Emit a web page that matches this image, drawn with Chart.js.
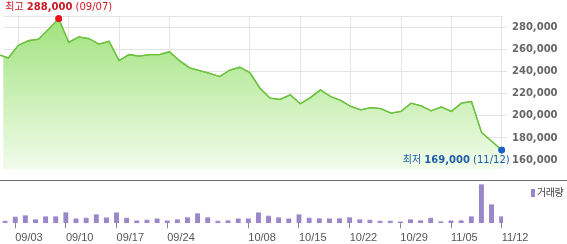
<!DOCTYPE html>
<html><head><meta charset="utf-8">
<script src="https://cdn.jsdelivr.net/npm/chart.js@4/dist/chart.umd.min.js"></script>
<style>
html,body{margin:0;padding:0;background:#fff;}
#wrap{position:relative;width:567px;height:244px;overflow:hidden;background:#fff;}
#top{position:absolute;left:0;top:0;width:567px;height:180px;}
#bot{position:absolute;left:0;top:181px;width:567px;height:63px;}
#sep{position:absolute;left:0;top:180px;width:567px;height:1px;background:#707070;}
#legend{position:absolute;left:531px;top:185px;font-family:'Noto Sans CJK KR';font-size:10px;color:#444;line-height:14px;white-space:nowrap;letter-spacing:-0.5px;}
#legend i{display:inline-block;width:4px;height:8px;background:#9a86c8;margin-right:2px;vertical-align:-1px;}
</style></head>
<body><div id="wrap">
<canvas id="top" width="567" height="180"></canvas>
<div id="sep"></div>
<canvas id="bot" width="567" height="63"></canvas>
<div id="legend"><i></i>거래량</div>
</div>
<script>
const dates = ['08/30','08/31','09/03','09/04','09/05','09/06','09/07','09/10','09/11','09/12','09/13','09/14',
  '09/17','09/18','09/19','09/20','09/21','09/24','09/25','09/26','09/27','09/28','10/02','10/04','10/05',
  '10/08','10/09','10/10','10/11','10/12','10/15','10/16','10/17','10/18','10/19','10/22','10/23','10/24',
  '10/25','10/26','10/29','10/30','10/31','11/01','11/02','11/05','11/06','11/07','11/08','11/09','11/12'];
const prices = [255500,252500,264000,268000,269500,278500,288000,266500,271500,270000,265000,267500,
  250000,255500,254000,255500,255500,258000,250000,243500,241000,238500,235500,241500,244000,
  239000,225000,216000,215000,219000,211000,216500,223500,217500,214000,208500,205500,207500,
  206500,202500,204000,211500,209000,204500,208000,204000,211500,213000,185000,177000,169000];
const volumes = [40,27,67,83,43,73,73,113,50,57,93,60,
  110,57,30,37,50,30,43,63,103,63,27,33,50,
  50,110,77,63,50,93,57,53,50,53,63,43,37,
  27,27,20,43,33,57,23,30,33,73,393,193,73];
const tickLabels = ['09/03','09/10','09/17','09/24','10/08','10/15','10/22','10/29','11/05','11/12'];
const priceTicks = [160000,180000,200000,220000,240000,260000,280000];

const X_MIN = 0.5, X_MAX = 50.13;
const Y_MIN = 151900, Y_MAX = 290400;
const V_MAX = 423;

const tickIdx = tickLabels.map(l => dates.indexOf(l));
const maxI = prices.indexOf(Math.max(...prices));
const minI = prices.lastIndexOf(Math.min(...prices));
const fmt = v => v.toLocaleString('en-US');
const setXTicks = s => { s.ticks = tickIdx.map(v => ({value: v})); };

function drawRich(ctx, parts, x, y, align, clampMin, clampMax, color) {
  const reg = '10px "DejaVu Sans", "Noto Sans CJK KR"';
  const bold = 'bold 10px "DejaVu Sans", "Noto Sans CJK KR"';
  let total = 0;
  const widths = parts.map(p => { ctx.font = p.b ? bold : reg; const w = ctx.measureText(p.t).width; total += w; return w; });
  let left = align === 'center' ? x - total / 2 : x - total;
  if (clampMin !== null && left < clampMin) left = clampMin;
  if (clampMax !== null && left + total > clampMax) left = clampMax - total;
  ctx.save();
  ctx.fillStyle = color;
  ctx.textBaseline = 'middle';
  ctx.textAlign = 'left';
  parts.forEach((p, i) => { ctx.font = p.b ? bold : reg; ctx.fillText(p.t, left, y); left += widths[i]; });
  ctx.restore();
}

const overlay = {
  id: 'overlay',
  afterDraw(chart) {
    const meta = chart.getDatasetMeta(0);
    meta.controller.draw();
    const ctx = chart.ctx;
    const pMax = meta.data[maxI], pMin = meta.data[minI];
    drawRich(ctx, [{t: '최고 '}, {t: fmt(prices[maxI]), b: true}, {t: ' (' + dates[maxI] + ')'}],
      pMax.x, pMax.y - 11.5, 'center', 3, null, '#cc1a22');
    drawRich(ctx, [{t: '최저 '}, {t: fmt(prices[minI]), b: true}, {t: ' (' + dates[minI] + ')'}],
      pMin.x + 8, pMin.y + 10, 'right', null, 510, '#1f5ea8');
  }
};

new Chart(document.getElementById('top'), {
  type: 'line',
  data: {datasets: [{
    data: prices.map((v, i) => ({x: i, y: v})),
    borderColor: '#6cc23f', borderWidth: 1.3, tension: 0,
    fill: 'start',
    backgroundColor: c => {
      const ca = c.chart.chartArea;
      if (!ca) return '#c8f0b0';
      const g = c.chart.ctx.createLinearGradient(0, ca.top, 0, ca.bottom);
      g.addColorStop(0, '#9fe27b');
      g.addColorStop(1, '#f1fcea');
      return g;
    },
    pointRadius: prices.map((v, i) => (i === maxI || i === minI) ? 3.3 : 0),
    pointBackgroundColor: prices.map((v, i) => i === maxI ? '#e8141c' : '#1c62c6'),
    pointBorderWidth: 0, pointHoverRadius: 0,
    clip: false
  }]},
  options: {
    responsive: false, animation: false, events: [],
    layout: {padding: {top: 16, left: 0, right: 0, bottom: 0}},
    plugins: {legend: {display: false}, tooltip: {enabled: false}},
    scales: {
      x: {type: 'linear', min: X_MIN, max: X_MAX, z: 1, afterBuildTicks: setXTicks,
        grid: {color: '#e4e4e4', drawTicks: false}, border: {display: false},
        ticks: {display: false}, afterFit: s => { s.height = 0; }},
      y: {position: 'right', min: Y_MIN, max: Y_MAX, z: 1,
        afterBuildTicks: s => { s.ticks = priceTicks.map(v => ({value: v})).concat([{value: Y_MAX}]); },
        grid: {color: '#e4e4e4', tickLength: 4,
          tickColor: c => (c.tick && c.tick.value === Y_MAX) ? 'rgba(0,0,0,0)' : '#e4e4e4'},
        border: {display: false},
        ticks: {padding: 5, color: '#666', font: {family: 'DejaVu Sans', size: 10, weight: 'bold'},
          callback: v => priceTicks.includes(v) ? fmt(v) : ''},
        afterFit: s => { s.width = 64; }}
    }
  },
  plugins: [overlay]
});

new Chart(document.getElementById('bot'), {
  type: 'bar',
  data: {datasets: [{
    data: volumes.map((v, i) => ({x: i, y: v})),
    backgroundColor: '#9a86c8', borderColor: '#cdc2e8',
    borderWidth: {top: 1, left: 0, right: 0, bottom: 0}, borderSkipped: 'start',
    barThickness: 5
  }]},
  options: {
    responsive: false, animation: false, events: [],
    layout: {padding: {top: 0, left: 0, right: 64, bottom: 0}},
    plugins: {legend: {display: false}, tooltip: {enabled: false}},
    scales: {
      x: {type: 'linear', min: X_MIN, max: X_MAX, offset: false, afterBuildTicks: setXTicks,
        grid: {offset: false, drawOnChartArea: false, drawTicks: true, tickLength: 5, color: '#8a8a8a'},
        border: {display: false},
        ticks: {autoSkip: false, maxRotation: 0, align: 'start', padding: 3, color: '#555',
          font: {family: 'Liberation Sans', size: 11}, callback: v => dates[v] || ''},
        afterFit: s => { s.height = 20.7; }},
      y: {display: false, min: 0, max: V_MAX}
    }
  }
});
</script>
</body></html>
